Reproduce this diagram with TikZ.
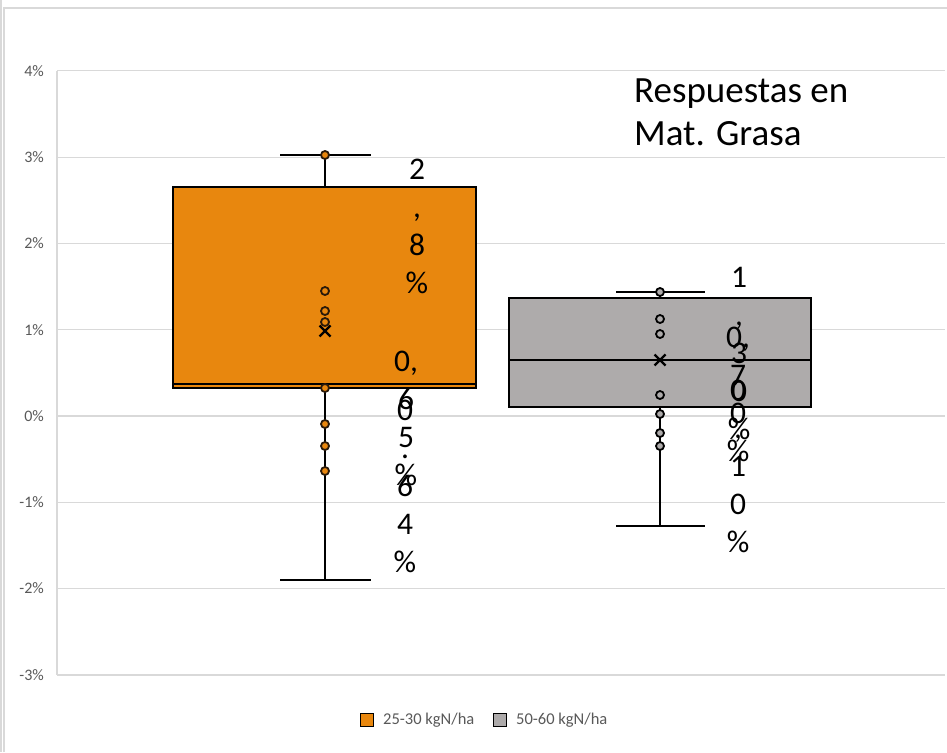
\documentclass[tikz,border=0pt]{standalone}
\usepackage{fontspec}
\setmainfont{Carlito}
\definecolor{orangec}{HTML}{E8870E}
\definecolor{grayc}{HTML}{AEABAB}
\definecolor{gridc}{HTML}{D9D9D9}
\definecolor{tickc}{HTML}{595959}
\definecolor{ptline}{HTML}{2A1A0A}
\newcommand{\lblfont}{\fontsize{31.5}{38}\selectfont}
\tikzset{
  gridline/.style={draw=gridc, line width=1.2pt},
  ticklbl/.style={anchor=east, inner sep=0pt, text=tickc, font=\fontsize{16}{19}\selectfont},
  boxline/.style={draw=black, line width=2.3pt},
  whisk/.style={draw=black, line width=2.2pt},
  pt/.style={circle, draw=ptline, line width=1.8pt, inner sep=0pt, minimum size=8pt},
  meanx/.style={draw=black, line width=2.3pt},
  vlabel/.style={anchor=north, inner sep=0pt, align=center, font=\lblfont},
  legsq/.style={draw=black, line width=1.5pt, minimum size=13pt, inner sep=0pt},
  legtxt/.style={anchor=west, inner sep=0pt, text=tickc, font=\fontsize{16.5}{19}\selectfont}
}
\begin{document}
\begin{tikzpicture}[x=1pt,y=-1pt]
\useasboundingbox (0,0) rectangle (947,752);
\fill[white] (0,0) rectangle (947,752);
% chart frame
\draw[gridc, line width=1.2pt] (1,0) -- (1,752);
\draw[gridc, line width=1.4pt] (4,752) -- (4,8) -- (947,8);
% grid and tick labels
\foreach \v/\yy in {4/70.8, 3/157.1, 2/243.4, 1/329.7, 0/416, -1/502.3, -2/588.6, -3/674.9}{
  \draw[gridline] (57,\yy) -- (945,\yy);
  \node[ticklbl] (tick\v) at (44,\yy) {\v\%};
}
\draw[gridline] (57,70.8) -- (57,674.9);

% ---- orange box ----
\coordinate (oTop) at (325,155);
\coordinate (oQ3) at (325,187);
\coordinate (oQ1) at (325,388);
\coordinate (oBot) at (325,580);
\draw[whisk] (oTop) -- (oQ3);
\draw[whisk] (oQ1) -- (oBot);
\draw[whisk] (280,155) -- (371,155);
\draw[whisk] (280,580) -- (371,580);
\draw[boxline, fill=orangec] (173,187) rectangle (476,388);
\draw[boxline] (173,384) -- (476,384);
\foreach \yy [count=\i] in {155,291,311,322,388,424,446,471}{
  \node[pt, fill=orangec] (op\i) at (325,\yy) {};
}
\draw[meanx] (319.5,325.5) -- (330.5,336.5) (319.5,336.5) -- (330.5,325.5);

% ---- gray box ----
\coordinate (gTop) at (660,292);
\coordinate (gQ3) at (660,298);
\coordinate (gQ1) at (660,407);
\coordinate (gBot) at (660,526);
\draw[whisk] (gTop) -- (gQ3);
\draw[whisk] (gQ1) -- (gBot);
\draw[whisk] (616,292) -- (705,292);
\draw[whisk] (616,526) -- (705,526);
\draw[boxline, fill=grayc] (509,298) rectangle (811,407);
\draw[boxline] (509,360) -- (811,360);
\foreach \yy [count=\i] in {292,319,334,395,414,433,446}{
  \node[pt, draw=black, fill=grayc] (gp\i) at (660,\yy) {};
}
\draw[meanx] (654.5,354.5) -- (665.5,365.5) (654.5,365.5) -- (665.5,354.5);

% ---- value labels ----
\node[vlabel] (la1) at (417,153) {\strut 2\\,\\8\\\%};
\node[vlabel] (la2) at (406,345) {\strut 0,\\6\\5\\\%};
\node[vlabel] (la3) at (405,394) {\strut 0\\.\\6\\4\\\%};
\node[vlabel] (lb1) at (739,261) {\strut 1\\,\\3\\0\\\%};
\node[vlabel] (lb2) at (738,321) {\strut 0,\\7\\0\\\%};
\node[vlabel] (lb3) at (738,374) {\strut 0\\,\\1\\0\\\%};

% ---- title ----
\node[anchor=north west, inner sep=0pt, align=left, font=\fontsize{37}{43}\selectfont] (title) at (634,71.9) {\strut Respuestas en\\Mat. Grasa};

% ---- legend ----
\node[legsq, fill=orangec] (leg1) at (367,720) {};
\node[legtxt] (leg1t) at (383,720) {25-30 kgN/ha};
\node[legsq, fill=grayc] (leg2) at (500,720) {};
\node[legtxt] (leg2t) at (516,720) {50-60 kgN/ha};
\end{tikzpicture}
\end{document}
